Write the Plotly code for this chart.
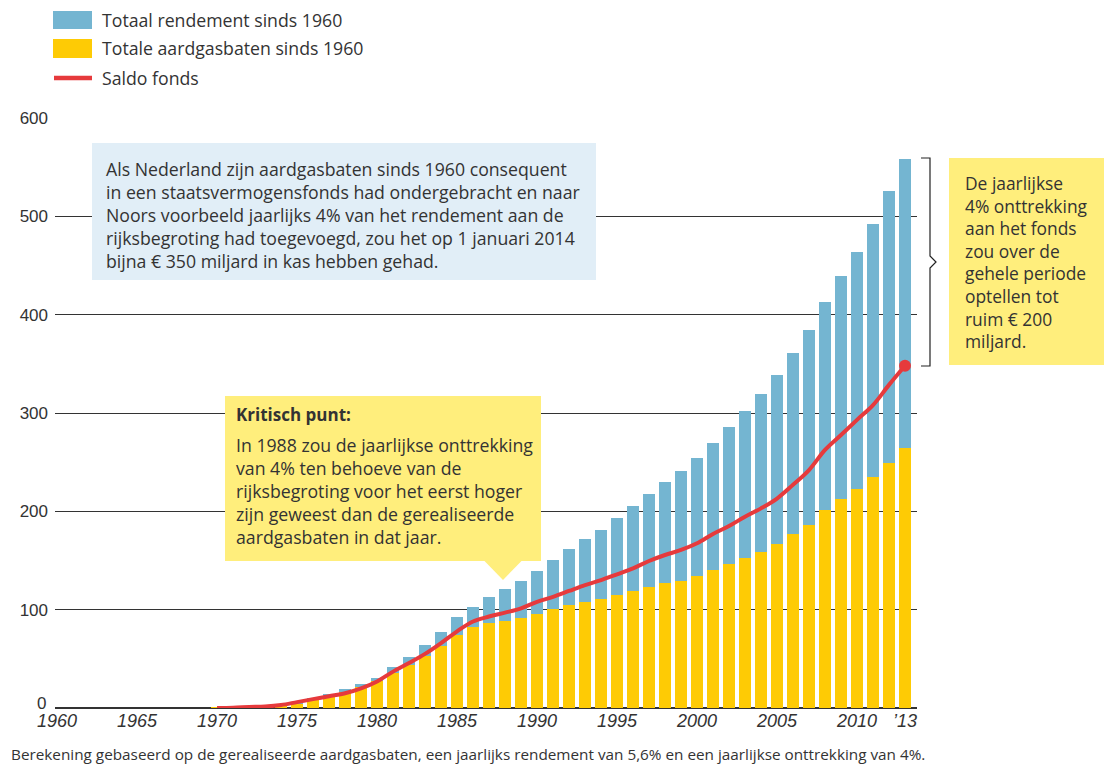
import plotly.graph_objects as go

years = list(range(1970, 2014))
aardgasbaten = [0.2, 0.5, 1.0, 1.5, 2.5, 5, 9, 12, 16, 21, 27, 36, 44, 53, 63, 74, 82, 86.5, 88.5, 91.6,
                95.6, 100.7, 104.8, 108, 111, 115, 119, 123, 127, 129, 134, 140, 146.5, 152.6, 158.7,
                166.8, 177, 186, 201.4, 212.6, 222.8, 235, 249, 264.5]
rendement = [0, 0, 0.1, 0.2, 0.5, 1.5, 1.5, 2, 3, 3.5, 4, 6, 8, 11, 14, 18.6, 21, 26.5, 32.5, 37.4,
             43.4, 49.9, 56.9, 63.9, 70, 78.3, 86.5, 94.7, 103, 112, 120, 129.5, 139.4, 149.4, 160.3,
             171.9, 184, 198.5, 211.6, 226.9, 241.2, 257, 277, 294]
saldo = [0, 0.3, 1, 1.5, 3, 6, 9, 12, 15, 20, 27, 37, 45.7, 55, 66, 78, 88, 93, 97, 101.4,
         108, 113, 119, 125, 130, 136, 142, 149.5, 155.6, 160.7, 167.5, 177, 185, 194.6, 203,
         213, 227, 242, 262.5, 277.7, 293, 308, 328.6, 348]
x_tickvals = [1960, 1965, 1970, 1975, 1980, 1985, 1990, 1995, 2000, 2005, 2010, 2013]
x_ticktext = ["1960", "1965", "1970", "1975", "1980", "1985", "1990", "1995", "2000", "2005", "2010", "\u201913"]
y_tickvals = [0, 100, 200, 300, 400, 500, 600]
y_ticktext = ["", "100", "200", "300", "400", "500", "600"]

BLUE = "#74b5d1"
YELLOW = "#fecb05"
RED = "#e63a3c"
CALLOUT_Y = "#ffee7c"
CALLOUT_B = "#e1eef7"
TXT = "#333333"
NUMFONT = "Liberation Sans"
FONT = "Open Sans"
TS = 17.7  # annotation text size

# page body has an 8px margin; figure is sized/offset so the plot area lands where the reference has it
OFF = 8
W, H = 1112 - OFF, 769 - OFF
L, R, T, B = 55, 917, 118, 708  # plot area in reference (window) pixels


def px(x):
    return (x - L) / (R - L)


def py(y):
    return (B - y) / (B - T)


fig = go.Figure()
fig.add_trace(go.Bar(x=years, y=aardgasbaten, marker_color=YELLOW, width=0.75,
                     marker_line_width=0, name="Totale aardgasbaten sinds 1960"))
fig.add_trace(go.Bar(x=years, y=rendement, marker_color=BLUE, width=0.75,
                     marker_line_width=0, name="Totaal rendement sinds 1960"))
fig.add_trace(go.Scatter(x=years, y=saldo, mode="lines", line=dict(color=RED, width=4, shape="spline"),
                         name="Saldo fonds", cliponaxis=False))
fig.add_trace(go.Scatter(x=[years[-1]], y=[saldo[-1]], mode="markers",
                         marker=dict(color=RED, size=12), cliponaxis=False, showlegend=False))

shapes = []
annotations = []

# legend
shapes.append(dict(type="rect", xref="paper", yref="paper", x0=px(53), x1=px(92), y0=py(29), y1=py(11),
                   fillcolor=BLUE, line_width=0))
shapes.append(dict(type="rect", xref="paper", yref="paper", x0=px(53), x1=px(92), y0=py(58), y1=py(39),
                   fillcolor=YELLOW, line_width=0))
shapes.append(dict(type="line", xref="paper", yref="paper", x0=px(54), x1=px(92), y0=py(78), y1=py(78),
                   line=dict(color=RED, width=4.5)))
for txt, yy in [("Totaal rendement sinds 1960", 20), ("Totale aardgasbaten sinds 1960", 48), ("Saldo fonds", 78)]:
    annotations.append(dict(xref="paper", yref="paper", x=px(100), y=py(yy), text=txt, showarrow=False,
                            xanchor="left", yanchor="middle", font=dict(size=TS, color=TXT, family=FONT)))

# blue info box
shapes.append(dict(type="rect", xref="paper", yref="paper", x0=px(92), x1=px(596), y0=py(280), y1=py(143),
                   fillcolor=CALLOUT_B, line_width=0, layer="above"))
annotations.append(dict(xref="paper", yref="paper", x=px(104), y=py(215),
                        text="Als Nederland zijn aardgasbaten sinds 1960 consequent<br>"
                             "in een staatsvermogensfonds had ondergebracht en naar<br>"
                             "Noors voorbeeld jaarlijks 4% van het rendement aan de<br>"
                             "rijksbegroting had toegevoegd, zou het op 1 januari 2014<br>"
                             "bijna \u20ac 350 miljard in kas hebben gehad.",
                        showarrow=False, xanchor="left", yanchor="middle", align="left",
                        font=dict(size=TS, color=TXT, family=FONT)))

# yellow critical-point callout
shapes.append(dict(type="rect", xref="paper", yref="paper", x0=px(225), x1=px(541), y0=py(561), y1=py(396),
                   fillcolor=CALLOUT_Y, line_width=0, layer="above"))
shapes.append(dict(type="path", xref="paper", yref="paper",
                   path=f"M {px(484)} {py(560.5)} L {px(522)} {py(560.5)} L {px(503)} {py(580)} Z",
                   fillcolor=CALLOUT_Y, line_width=0, layer="above"))
annotations.append(dict(xref="paper", yref="paper", x=px(234), y=py(414), text="<b>Kritisch punt:</b>",
                        showarrow=False, xanchor="left", yanchor="middle", align="left",
                        font=dict(size=17, color=TXT, family=FONT)))
annotations.append(dict(xref="paper", yref="paper", x=px(234), y=py(490.5),
                        text="In 1988 zou de jaarlijkse onttrekking<br>"
                             "van 4% ten behoeve van de<br>"
                             "rijksbegroting voor het eerst hoger<br>"
                             "zijn geweest dan de gerealiseerde<br>"
                             "aardgasbaten in dat jaar.",
                        showarrow=False, xanchor="left", yanchor="middle", align="left",
                        font=dict(size=TS, color=TXT, family=FONT)))

# right bracket
bx, bt, bb, bm = 930, 158, 366, 262
shapes.append(dict(type="path", xref="paper", yref="paper",
                   path=(f"M {px(921)} {py(bt)} L {px(bx)} {py(bt)} L {px(bx)} {py(bm-6)} "
                         f"L {px(bx+6)} {py(bm)} L {px(bx)} {py(bm+6)} L {px(bx)} {py(bb)} L {px(921)} {py(bb)}"),
                   line=dict(color="#222222", width=1.2)))

# right yellow box
shapes.append(dict(type="rect", xref="paper", yref="paper", x0=px(949), x1=px(1107), y0=py(365), y1=py(158),
                   fillcolor=CALLOUT_Y, line_width=0))
annotations.append(dict(xref="paper", yref="paper", x=px(963), y=py(262.5),
                        text="De jaarlijkse<br>4% onttrekking<br>aan het fonds<br>zou over de<br>"
                             "gehele periode<br>optellen tot<br>ruim \u20ac 200<br>miljard.",
                        showarrow=False, xanchor="left", yanchor="middle", align="left",
                        font=dict(size=17.4, color=TXT, family=FONT)))

# zero tick label (sits slightly above the baseline in the reference)
annotations.append(dict(xref="paper", yref="paper", x=px(48), y=py(703), text="0", showarrow=False,
                        xanchor="right", yanchor="middle", font=dict(size=17, color=TXT, family=NUMFONT)))

# footnote
annotations.append(dict(xref="paper", yref="paper", x=px(9), y=py(754),
                        text="Berekening gebaseerd op de gerealiseerde aardgasbaten, een jaarlijks rendement van 5,6% en een jaarlijkse onttrekking van 4%.",
                        showarrow=False, xanchor="left", yanchor="middle",
                        font=dict(size=15.3, color=TXT, family=FONT)))

fig.update_layout(
    width=W, height=H,
    margin=dict(l=L - OFF, r=W - (R - OFF), t=T - OFF, b=H - (B - OFF)),
    barmode="stack",
    bargap=0.25,
    showlegend=False,
    plot_bgcolor="white",
    paper_bgcolor="white",
    font=dict(family=NUMFONT, color=TXT, size=16),
    shapes=shapes,
    annotations=annotations,
    xaxis=dict(range=[1959.87, 2013.75], tickvals=x_tickvals, ticktext=x_ticktext, showgrid=False,
               zeroline=False, showline=False, ticks="",
               tickfont=dict(size=18, style="italic", color=TXT, family=NUMFONT)),
    yaxis=dict(range=[0, 600], tickvals=y_tickvals, ticktext=y_ticktext, showgrid=True,
               gridcolor="#333333", gridwidth=1, ticklabelstandoff=6,
               zeroline=True, zerolinecolor="#333333", zerolinewidth=1.5, ticks="",
               tickfont=dict(size=17, color=TXT, family=NUMFONT)),
)

fig.write_html("out.html")
